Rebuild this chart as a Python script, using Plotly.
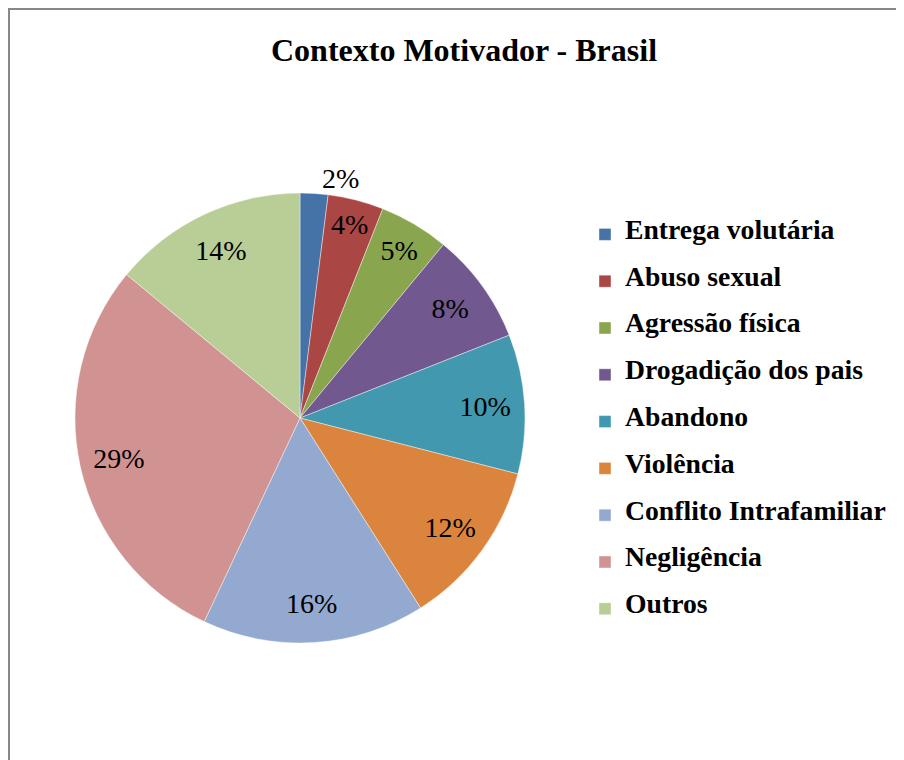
import plotly.graph_objects as go

# categorias e valores (%)
categorias = ["Entrega volutária", "Abuso sexual", "Agressão física", "Drogadição dos pais",
              "Abandono", "Violência", "Conflito Intrafamiliar", "Negligência", "Outros"]
valores = [2, 4, 5, 8, 10, 12, 16, 29, 14]
cores = ["#4572A7", "#AA4643", "#89A54E", "#71588F", "#4198AF",
         "#DB843D", "#93A9CF", "#D19392", "#B9CD96"]

W, H = 904, 760
OFF = 8  # margem do body da página
def px(x): return (x - OFF) / W
def py(y): return 1 - (y - OFF) / H

# truque para espaçar a legenda: linha vazia antes e depois do rótulo
rotulos = [" <br><span style='font-size:27.7px'>%s</span><br> " % c for c in categorias]
posicoes = ["outside"] + ["inside"] * (len(valores) - 1)
dominio = dict(x=[px(75), px(525)], y=[py(643), py(193)])

fig = go.Figure()
# pizza com as cores
fig.add_trace(go.Pie(
    labels=rotulos, values=valores, sort=False, direction="clockwise", rotation=0,
    marker=dict(colors=cores, line=dict(color="rgba(255,255,255,0.6)", width=0.7)),
    textinfo="none", domain=dominio, hoverinfo="skip",
))
# anel transparente só para posicionar os rótulos de % mais perto da borda
fig.add_trace(go.Pie(
    labels=rotulos, values=valores, sort=False, direction="clockwise", rotation=0,
    hole=0.65, showlegend=False,
    marker=dict(colors=["rgba(0,0,0,0)"] * len(valores), line=dict(width=0)),
    texttemplate="%{percent:.0%}", textposition=posicoes,
    insidetextorientation="horizontal",
    textfont=dict(family="Liberation Serif", size=28, color="black"),
    domain=dominio, hoverinfo="skip",
))

fig.update_layout(
    width=W, height=H,
    margin=dict(l=0, r=0, t=0, b=0),
    paper_bgcolor="white",
    title=dict(text="<b>Contexto Motivador - Brasil</b>", x=px(464), xanchor="center",
               y=py(50), yanchor="middle",
               font=dict(family="Liberation Serif", size=32, color="black")),
    legend=dict(x=px(585), xanchor="left", y=py(206), yanchor="top",
                font=dict(family="Liberation Serif", size=11.23, color="black", weight="bold"),
                bgcolor="rgba(0,0,0,0)", itemclick=False),
    shapes=[dict(type="rect", xref="paper", yref="paper",
                 x0=px(9), x1=1.05, y0=-0.05, y1=py(9),
                 line=dict(color="#878787", width=2))],
)

fig.write_html("out.html")
